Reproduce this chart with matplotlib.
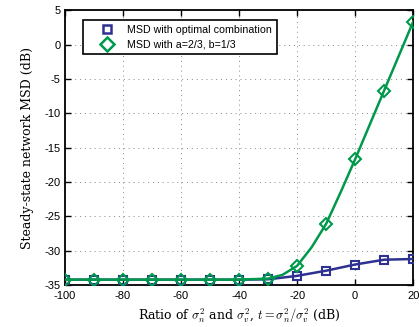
import numpy as np
import matplotlib.pyplot as plt
from matplotlib.lines import Line2D

# 数据
t_db = [-100, -90, -80, -70, -60, -50, -40, -30, -20, -10, 0, 10, 20]
msd_opt = [-34.2, -34.2, -34.2, -34.2, -34.2, -34.2, -34.2, -34.15, -33.65, -32.9, -32.0, -31.3, -31.2]

t_fix = [-100, -90, -80, -70, -60, -50, -40, -30, -25, -20, -15, -10, -5, 0, 5, 10, 15, 20]
msd_fix = [-34.2, -34.2, -34.2, -34.2, -34.2, -34.2, -34.2, -34.05, -33.5, -32.2, -29.5, -26.1, -21.5, -16.7, -11.7, -6.7, -1.7, 3.3]

x_ticks = [-100, -80, -60, -40, -20, 0, 20]
y_ticks = [-35, -30, -25, -20, -15, -10, -5, 0, 5]

c_blue = '#2e3192'
c_green = '#00994c'

plt.rcParams['font.family'] = ['Liberation Sans', 'DejaVu Sans']
plt.rcParams['mathtext.fontset'] = 'cm'
plt.rcParams['axes.unicode_minus'] = False

fig = plt.figure(figsize=(4.19, 3.27), dpi=100)
ax = fig.add_axes([0.155, 0.128, 0.831, 0.841])

ax.plot(t_db, msd_opt, color=c_blue, lw=1.8, marker='s', ms=6,
        mfc='none', mec=c_blue, mew=1.5, zorder=3)
# 只在整十处画标记
mark_idx = [i for i, v in enumerate(t_fix) if v % 10 == 0]
ax.plot(t_fix, msd_fix, color=c_green, lw=1.8, marker='D', ms=6,
        mfc='none', mec=c_green, mew=1.5, markevery=mark_idx, zorder=4)

ax.set_xlim(-100, 20)
ax.set_ylim(-35, 5)
ax.set_xticks(x_ticks)
ax.set_yticks(y_ticks)
ax.tick_params(direction='in', labelsize=8, width=1, length=4, top=True, right=True)
ax.tick_params(axis='x', pad=4)
ax.tick_params(axis='y', pad=3)
ax.grid(True, color='#888888', ls=(0, (1, 4)), lw=0.7)
for s in ax.spines.values():
    s.set_linewidth(1.3)

ax.set_xlabel(r'Ratio of $\sigma_n^2$ and $\sigma_v^2$, $t=\sigma_n^2/\sigma_v^2$ (dB)',
              family='DejaVu Serif', fontsize=9, labelpad=4)
ax.set_ylabel('Steady-state network MSD (dB)', family='DejaVu Serif', fontsize=9, labelpad=8)

# 图例只显示标记
handles = [Line2D([], [], ls='none', marker='s', ms=6, mfc='none', mec=c_blue, mew=1.8),
           Line2D([], [], ls='none', marker='D', ms=7, mfc='none', mec=c_green, mew=1.8)]
leg = ax.legend(handles, ['MSD with optimal combination', 'MSD with a=2/3, b=1/3'],
                loc='upper left', bbox_to_anchor=(0.052, 0.964), borderaxespad=0,
                fontsize=7.7, fancybox=False, framealpha=1, edgecolor='black',
                borderpad=0.45, handlelength=3.6, handletextpad=0.1, labelspacing=0.45)
leg.get_frame().set_linewidth(1.2)

fig.savefig('out.png', dpi=100)
